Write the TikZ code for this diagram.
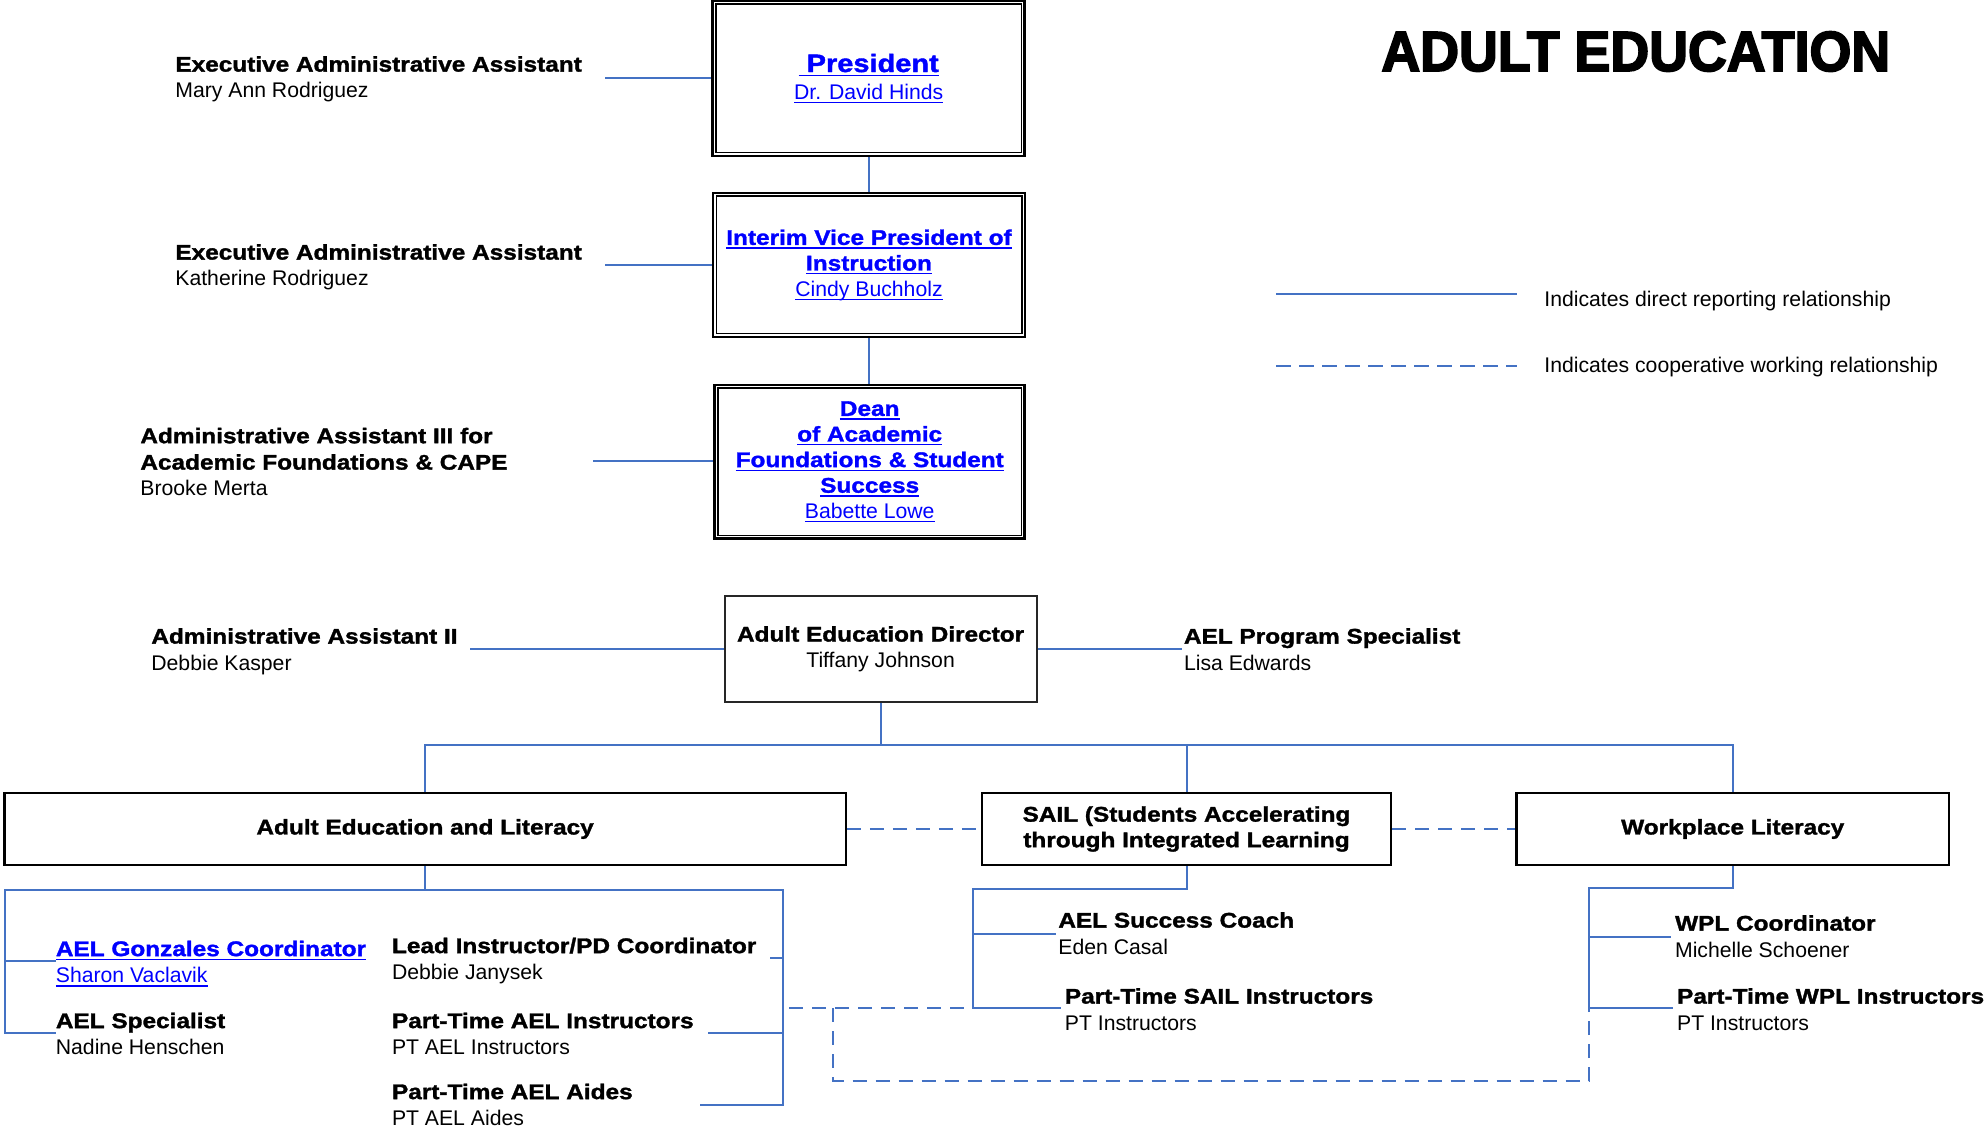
\documentclass[tikz,border=0pt]{standalone}
\usepackage{fontspec}
\setmainfont{Liberation Sans}
\newfontfamily\hvyfont{Liberation Sans Bold}[FakeStretch=1.15,FakeBold=1.5]
\newfontfamily\ttlfont{Liberation Sans Bold}[FakeStretch=0.95,FakeBold=3]
\newsavebox\ulbox
\newcommand\lnkul[1]{\sbox\ulbox{#1}\rlap{\vrule width\wd\ulbox height -1.3pt depth 2pt}\usebox\ulbox}
\newcommand\hb[1]{{\hvyfont #1}}
\definecolor{cblue}{HTML}{4472C4}
\definecolor{lnk}{HTML}{0000FF}
\tikzset{
  conn/.style={draw=cblue, line width=1pt},
  coop/.style={draw=cblue, line width=1pt, dash pattern=on 7pt off 4.5pt},
  tbox/.style={draw=black, line width=1.1pt, inner sep=0pt, align=center,
    font=\fontsize{10.6}{12.8}\selectfont},
  person/.style={anchor=base west, inner sep=0pt, align=left,
    font=\fontsize{10.6}{13.2}\selectfont},
  inbox/.style={draw=black, line width=0.7pt},
}
\begin{document}
\begin{tikzpicture}[x=0.5pt,y=-0.5pt]
\useasboundingbox (0,0) rectangle (1988,1128);

% title
\node[anchor=base west, inner sep=0pt, font=\ttlfont\fontsize{28.3}{30}\selectfont] (title) at (1381,71) {ADULT EDUCATION};

% legend
\coordinate (lg1a) at (1276,294); \coordinate (lg1b) at (1517,294);
\coordinate (lg2a) at (1276,366); \coordinate (lg2b) at (1517,366);
\draw[conn, line width=0.8pt] (lg1a) -- (lg1b);
\draw[coop, line width=0.8pt, dash pattern=on 7.5pt off 4pt] (lg2a) -- (lg2b);
\node[person] (lg1t) at (1544,306.5) {Indicates direct reporting relationship};
\node[person] (lg2t) at (1544,372.5) {Indicates cooperative working relationship};

% top boxes
\node[tbox, text=lnk, line width=1.3pt, minimum width=156pt, minimum height=77.5pt, font=\fontsize{10.6}{13.6}\selectfont] (pres) at (868.7,78.5)
  {{\fontsize{12.6}{14}\selectfont\hb{\lnkul{\ President}}}\\\lnkul{Dr. David Hinds}};
\draw[inbox] ([shift={(2.25pt,-2.25pt)}]pres.north west) rectangle ([shift={(-2.25pt,2.25pt)}]pres.south east);

\node[tbox, text=lnk, line width=1.3pt, minimum width=156pt, minimum height=72pt] (vp) at (869,265)
  {\hb{\lnkul{Interim Vice President of}}\\\hb{\lnkul{Instruction}}\\\lnkul{Cindy Buchholz}};
\draw[inbox] ([shift={(2.25pt,-2.25pt)}]vp.north west) rectangle ([shift={(-2.25pt,2.25pt)}]vp.south east);

\node[tbox, text=lnk, line width=1.3pt, minimum width=155pt, minimum height=76.8pt] (dean) at (869.7,461.8)
  {\hb{\lnkul{Dean}}\\\hb{\lnkul{of Academic}}\\\hb{\lnkul{Foundations \& Student}}\\\hb{\lnkul{Success}}\\\lnkul{Babette Lowe}};
\draw[inbox] ([shift={(2.25pt,-2.25pt)}]dean.north west) rectangle ([shift={(-2.25pt,2.25pt)}]dean.south east);

\node[tbox, draw=black!85, line width=1pt, minimum width=156pt, minimum height=52.9pt] (dir) at (880.6,648.9)
  {\hb{Adult Education Director}\\Tiffany Johnson};

\node[tbox, minimum width=420.6pt, minimum height=36pt] (ael) at (425.1,829) {\hb{Adult Education and Literacy}};
\node[tbox, minimum width=204.5pt, minimum height=36pt] (sail) at (1186.5,829)
  {\hb{SAIL (Students Accelerating}\\\hb{through Integrated Learning}};
\node[tbox, minimum width=216.25pt, minimum height=36pt] (wpl) at (1732.75,829) {\hb{Workplace Literacy}};

% people (anchor = baseline of last line)
\node[person] (ea1) at (175,98) {\hb{Executive Administrative Assistant}\\Mary Ann Rodriguez};
\node[person] (ea2) at (175,286) {\hb{Executive Administrative Assistant}\\Katherine Rodriguez};
\node[person] (aa3) at (140,496) {\hb{Administrative Assistant III for}\\\hb{Academic Foundations \& CAPE}\\Brooke Merta};
\node[person] (aa2) at (151,670) {\hb{Administrative Assistant II}\\Debbie Kasper};
\node[person] (ps) at (1183.6,670) {\hb{AEL Program Specialist}\\Lisa Edwards};
\node[person, text=lnk] (gon) at (55.5,982.5) {\hb{\lnkul{AEL Gonzales Coordinator}}\\\lnkul{Sharon Vaclavik}};
\node[person] (aelsp) at (55.5,1054.5) {\hb{AEL Specialist}\\Nadine Henschen};
\node[person] (lead) at (391.6,979.5) {\hb{Lead Instructor/PD Coordinator}\\Debbie Janysek};
\node[person] (ptai) at (391.6,1054.5) {\hb{Part-Time AEL Instructors}\\PT AEL Instructors};
\node[person] (ptaa) at (391.6,1125.5) {\hb{Part-Time AEL Aides}\\PT AEL Aides};
\node[person] (coach) at (1058,954) {\hb{AEL Success Coach}\\Eden Casal};
\node[person] (ptsail) at (1064.5,1030) {\hb{Part-Time SAIL Instructors}\\PT Instructors};
\node[person] (wplc) at (1674.7,957) {\hb{WPL Coordinator}\\Michelle Schoener};
\node[person] (ptwpl) at (1676.7,1030) {\hb{Part-Time WPL Instructors}\\PT Instructors};

% top connectors
\coordinate (ea1c) at (605,78);
\coordinate (ea2c) at (605,265);
\coordinate (aa3c) at (593,461.5);
\coordinate (aa2c) at (470,649);
\coordinate (psc) at (1182,649);
\draw[conn] (ea1c) -- (ea1c -| pres.west);
\draw[conn] (ea2c) -- (ea2c -| vp.west);
\draw[conn] (aa3c) -- (aa3c -| dean.west);
\draw[conn] (pres.south) -- (pres.south |- vp.north);
\draw[conn] (vp.south) -- (vp.south |- dean.north);
\draw[conn] (aa2c) -- (aa2c -| dir.west);
\draw[conn] (psc -| dir.east) -- (psc);

% director to units
\coordinate (bus) at (0,745);
\draw[conn] (dir.south) -- (dir.south |- bus);
\draw[conn] (ael.north) -- (ael.north |- bus) -- (wpl.north |- bus) -- (wpl.north);
\draw[conn] (sail.north) -- (sail.north |- bus);
\draw[coop] (ael.east) -- (sail.west);
\draw[coop] (sail.east) -- (wpl.west);

% AEL subtree
\coordinate (aelbus) at (0,890);
\coordinate (aelL) at (5,890);
\coordinate (aelR) at (782.5,890);
\coordinate (aelLb) at (5,1032.6);
\coordinate (aelRb) at (782.5,1104.5);
\coordinate (t1) at (5,960.7);
\coordinate (t3) at (770,957.5);
\coordinate (t4) at (708,1032.6);
\coordinate (t5) at (700,1104.5);
\draw[conn] (ael.south) -- (ael.south |- aelbus);
\draw[conn] (aelLb -| aelsp.west) -- (aelLb) -- (aelL) -- (aelR) -- (aelRb) -- (t5);
\draw[conn] (t1) -- (t1 -| gon.west);
\draw[conn] (t3) -- (t3 -| aelR);
\draw[conn] (t4) -- (t4 -| aelR);

% SAIL subtree
\coordinate (sailbus) at (0,889);
\coordinate (sailV) at (973,889);
\coordinate (sailB) at (973,1008.4);
\coordinate (s1) at (1056,933.7);
\coordinate (s2) at (1061,1008.4);
\draw[conn] (sail.south) -- (sail.south |- sailbus) -- (sailV) -- (sailB) -- (s2);
\draw[conn] (s1 -| sailV) -- (s1);

% WPL subtree
\coordinate (wplV) at (1589,887.5);
\coordinate (wplB) at (1589,1008.4);
\coordinate (w1) at (1671,936.5);
\coordinate (w2) at (1673,1008.4);
\draw[conn] (wpl.south) -- (wpl.south |- wplV) -- (wplV) -- (wplB) -- (w2);
\draw[conn] (w1 -| wplV) -- (w1);

% cooperative dashed links
\coordinate (d1) at (789,1008.4);
\coordinate (d2) at (833,1008.4);
\coordinate (d3) at (833,1080.7);
\draw[coop] (d1) -- (sailB);
\draw[coop] (d2) -- (d3) -- (d3 -| wplB) -- (wplB);
\end{tikzpicture}
\end{document}
